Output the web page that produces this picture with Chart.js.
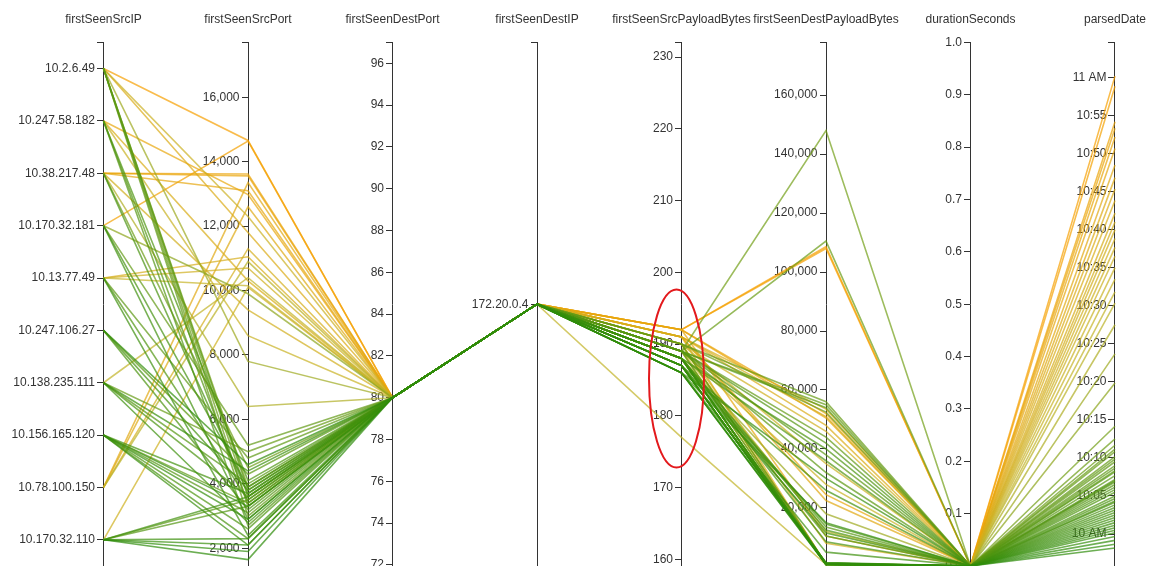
<!DOCTYPE html>
<html>
<head>
<meta charset="utf-8">
<script src="https://cdn.jsdelivr.net/npm/chart.js@4.4.1/dist/chart.umd.min.js"></script>
<style>
  html, body { margin: 0; padding: 0; background: #fff; width: 1149px; height: 566px; overflow: hidden; }
  #wrap { position: relative; width: 1149px; height: 566px; overflow: hidden; }
  canvas { display: block; }
</style>
</head>
<body>
<div id="wrap"><canvas id="pc" width="1149" height="600"></canvas></div>
<script>
// Dimension names, in axis order
const dimensions = ['firstSeenSrcIP', 'firstSeenSrcPort', 'firstSeenDestPort', 'firstSeenDestIP',
  'firstSeenSrcPayloadBytes', 'firstSeenDestPayloadBytes', 'durationSeconds', 'parsedDate'];

// Tick labels per axis
const srcIPLabels = ['10.2.6.49', '10.247.58.182', '10.38.217.48', '10.170.32.181', '10.13.77.49',
  '10.247.106.27', '10.138.235.111', '10.156.165.120', '10.78.100.150', '10.170.32.110'];
const destIPLabels = ['172.20.0.4'];
const srcPortTicks = [2000, 4000, 6000, 8000, 10000, 12000, 14000, 16000];
const destPortTicks = [72, 74, 76, 78, 80, 82, 84, 86, 88, 90, 92, 94, 96];
const srcPayloadTicks = [160, 170, 180, 190, 200, 210, 220, 230];
const destPayloadTicks = [20000, 40000, 60000, 80000, 100000, 120000, 140000, 160000];
const durationTicks = [0, 0.1, 0.2, 0.3, 0.4, 0.5, 0.6, 0.7, 0.8, 0.9, 1.0];
const dateTicks = ['10:00', '10:05', '10:10', '10:15', '10:20', '10:25', '10:30', '10:35',
  '10:40', '10:45', '10:50', '10:55', '11:00'];

// Ringed band on the source-payload axis (bytes)
const highlightSrcPayload = [172.8, 197.6];

// One entry per connection record
const firstSeenSrcIP = [
  '10.170.32.110', '10.247.106.27', '10.170.32.110', '10.156.165.120', '10.156.165.120',
  '10.170.32.110', '10.138.235.111', '10.156.165.120', '10.170.32.110', '10.13.77.49',
  '10.138.235.111', '10.170.32.181', '10.170.32.110', '10.156.165.120', '10.170.32.181',
  '10.247.106.27', '10.38.217.48', '10.156.165.120', '10.138.235.111', '10.247.106.27',
  '10.247.58.182', '10.156.165.120', '10.13.77.49', '10.170.32.110', '10.247.58.182',
  '10.156.165.120', '10.138.235.111', '10.247.58.182', '10.2.6.49', '10.170.32.110',
  '10.247.106.27', '10.13.77.49', '10.2.6.49', '10.156.165.120', '10.170.32.181',
  '10.2.6.49', '10.138.235.111', '10.2.6.49', '10.38.217.48', '10.2.6.49',
  '10.170.32.181', '10.2.6.49', '10.38.217.48', '10.78.100.150', '10.138.235.111',
  '10.13.77.49', '10.247.58.182', '10.2.6.49', '10.170.32.110', '10.13.77.49',
  '10.38.217.48', '10.78.100.150', '10.13.77.49', '10.247.58.182', '10.2.6.49',
  '10.78.100.150', '10.78.100.150', '10.38.217.48', '10.247.58.182', '10.38.217.48',
  '10.38.217.48', '10.170.32.181', '10.2.6.49'
];
const firstSeenSrcPort = [
  1650, 4600, 1900, 3300, 2900, 2100, 4400, 2100, 2300, 2400,
  2800, 2900, 3600, 3700, 3900, 3800, 3700, 2300, 3600, 3200,
  4100, 2600, 3500, 3300, 2700, 3100, 4000, 3400, 3800, 3500,
  4300, 4800, 3000, 3400, 5200, 3300, 5000, 3600, 4500, 3900,
  9900, 7800, 6400, 10900, 10400, 10150, 8600, 12300, 10100, 10700,
  9400, 11300, 11050, 10300, 11800, 12600, 13350, 13100, 12980, 13560,
  13620, 14640, 14660
];
const firstSeenDestPort = [
  80, 80, 80, 80, 80, 80, 80, 80, 80, 80, 80, 80, 80, 80, 80, 80, 80, 80, 80, 80, 80,
  80, 80, 80, 80, 80, 80, 80, 80, 80, 80, 80, 80, 80, 80, 80, 80, 80, 80, 80, 80, 80,
  80, 80, 80, 80, 80, 80, 80, 80, 80, 80, 80, 80, 80, 80, 80, 80, 80, 80, 80, 80, 80
];
const firstSeenDestIP = firstSeenSrcIP.map(() => '172.20.0.4');
const firstSeenSrcPayloadBytes = [
  186, 186, 187, 188, 186, 186, 186, 187, 187, 186,
  187, 187, 187, 187, 188, 187, 187, 188, 188, 187,
  188, 188, 188, 188, 187, 189, 188, 189, 188, 189,
  189, 189, 188, 190, 189, 189, 190, 189, 190, 189,
  188, 188, 188, 189, 177, 189, 189, 190, 190, 190,
  190, 190, 191, 191, 191, 191, 191, 192, 191, 192,
  192, 192, 192
];
const firstSeenDestPayloadBytes = [
  1500, 900, 800, 1200, 15000, 700, 30000, 1000, 11500, 5000,
  800, 1300, 900, 26000, 8500, 14500, 1100, 700, 12500, 1000,
  40000, 10500, 800, 36000, 1200, 42000, 900, 54000, 13500, 1000,
  32000, 38000, 800, 1100, 44000, 55000, 56000, 110500, 52500, 148000,
  1000, 18000, 900, 12000, 800, 1200, 28000, 35000, 1000, 46000,
  700, 8000, 51000, 53500, 48000, 900, 22500, 10500, 24500, 50500,
  52000, 108000, 108600
];
const durationSeconds = firstSeenSrcIP.map(() => 0);
const parsedDate = [
  '09:58:10', '09:58:40', '09:59:10', '09:59:40', '10:00:10', '10:00:30', '10:00:50', '10:01:10',
  '10:01:30', '10:01:50', '10:02:10', '10:02:30', '10:02:50', '10:03:10', '10:03:30', '10:03:50',
  '10:04:10', '10:04:20', '10:04:40', '10:05:00', '10:05:30', '10:05:50', '10:06:10', '10:06:30',
  '10:06:50', '10:07:00', '10:07:10', '10:07:40', '10:08:10', '10:08:20', '10:08:40', '10:09:00',
  '10:09:30', '10:09:50', '10:10:10', '10:10:50', '10:11:10', '10:11:40', '10:12:30', '10:14:10',
  '10:19:50', '10:23:40', '10:27:30', '10:30:20', '10:31:50', '10:33:30', '10:35:00', '10:36:30',
  '10:37:40', '10:38:50', '10:40:00', '10:41:00', '10:42:10', '10:43:50', '10:45:20', '10:46:50',
  '10:48:30', '10:50:40', '10:52:10', '10:53:20', '10:54:10', '10:58:50', '11:00:10'
];

// ---- helpers ----
const toMinutes = s => { const [h, m, sec = 0] = s.split(':').map(Number); return h * 60 + m + sec / 60; };
const thousands = v => v.toLocaleString('en-US');
const clock = s => { const [h, m] = s.split(':'); return m === '00' ? `${+h} AM` : `${+h}:${m}`; };

// Axis definitions: values, extent, direction and tick labels
const axes = [
  { values: firstSeenSrcIP.map(ip => srcIPLabels.indexOf(ip)), min: -0.5, max: 9.5, reverse: true,
    ticks: srcIPLabels.map((l, i) => [i, l]) },
  { values: firstSeenSrcPort, min: 1449, max: 17704, ticks: srcPortTicks.map(v => [v, thousands(v)]) },
  { values: firstSeenDestPort, min: 71.95, max: 97.0, ticks: destPortTicks.map(v => [v, String(v)]) },
  { values: firstSeenDestIP.map(ip => destIPLabels.indexOf(ip)), min: -0.5, max: 0.5, reverse: true,
    ticks: destIPLabels.map((l, i) => [i, l]) },
  { values: firstSeenSrcPayloadBytes, min: 159.07, max: 232.05, ticks: srcPayloadTicks.map(v => [v, String(v)]) },
  { values: firstSeenDestPayloadBytes, min: 300, max: 177900, ticks: destPayloadTicks.map(v => [v, thousands(v)]) },
  { values: durationSeconds, min: 0, max: 1, ticks: durationTicks.map(v => [v, v.toFixed(1)]) },
  { values: parsedDate.map(toMinutes), min: 595.8, max: 664.6, ticks: dateTicks.map(s => [toMinutes(s), clock(s)]) }
];

const norm = (a, v) => a.reverse ? (a.max - v) / (a.max - a.min) : (v - a.min) / (a.max - a.min);

// Line colour: early records green, through olive-yellow, to orange for the latest
const colorStops = [[0, [45, 140, 10]], [0.55, [196, 180, 40]], [1, [246, 160, 0]]];
const times = parsedDate.map(toMinutes);
const tMin = Math.min(...times), tMax = Math.max(...times);
function colorFor(t) {
  const k = (t - tMin) / (tMax - tMin);
  let j = 0;
  while (j < colorStops.length - 2 && k > colorStops[j + 1][0]) j++;
  const [k0, c0] = colorStops[j], [k1, c1] = colorStops[j + 1];
  const f = Math.max(0, Math.min(1, (k - k0) / (k1 - k0)));
  const c = c0.map((v, i) => Math.round(v + (c1[i] - v) * f));
  return `rgba(${c[0]},${c[1]},${c[2]},0.7)`;
}

// ---- chart ----
Chart.defaults.font.family = '"Liberation Sans", Arial, sans-serif';
Chart.defaults.font.size = 12;

const datasets = parsedDate.map((d, r) => ({
  data: axes.map((a, i) => ({ x: i, y: norm(a, a.values[r]) })),
  borderColor: colorFor(toMinutes(d)),
  borderWidth: 1.6,
  pointRadius: 0,
  tension: 0,
  xAxisID: 'x',
  yAxisID: 'yn'
}));

const AXIS_SPACING_PX = 144.5;   // pixel distance between neighbouring axes
const LABEL_GAP_PX = 8.5;        // gap between tick label and axis line

const scales = {
  x: {
    type: 'linear', axis: 'x', position: 'top', min: -0.7163, max: 7.2353,
    grid: { display: false, drawTicks: false }, border: { display: false },
    afterBuildTicks: s => { s.ticks = dimensions.map((_, i) => ({ value: i })); },
    afterFit: s => { s.paddingLeft = 0; s.paddingRight = 0; s.height = 30.4; },
    ticks: { autoSkip: false, maxRotation: 0, padding: 15.7, color: '#333',
      callback: v => dimensions[Math.round(v)] }
  },
  yn: { type: 'linear', axis: 'y', display: false, min: 0, max: 1 }
};

axes.forEach((a, i) => {
  const labels = new Map(a.ticks.map(([v, l]) => [v, l]));
  // tick values plus the two end stubs of the axis (skipped where a labelled tick already sits)
  const values = a.ticks.map(([v]) => v);
  const withEnds = [a.min, ...values, a.max].filter((v, k, arr) => arr.indexOf(v) === k);
  // axis line with outward tick marks
  scales['ax' + i] = {
    type: 'linear', axis: 'y', position: { x: i }, min: a.min, max: a.max, reverse: !!a.reverse, z: 1,
    afterBuildTicks: s => { s.ticks = withEnds.map(v => ({ value: v })); },
    grid: { display: true, drawOnChartArea: false, drawTicks: true, tickLength: 6, color: '#333', lineWidth: 1 },
    border: { display: true, color: '#333', width: 1 },
    ticks: { display: false, autoSkip: false }
  };
  // tick labels, set just left of the tick marks
  scales['lb' + i] = {
    type: 'linear', axis: 'y', position: { x: i - LABEL_GAP_PX / AXIS_SPACING_PX },
    min: a.min, max: a.max, reverse: !!a.reverse, z: 1,
    afterBuildTicks: s => { s.ticks = values.map(v => ({ value: v })); },
    grid: { display: false, drawTicks: false },
    border: { display: false },
    ticks: { autoSkip: false, padding: 0, color: '#333',
      callback: v => labels.has(v) ? labels.get(v) : '' }
  };
});

// Red ring around the crowded band on the source-payload axis
const payloadRing = {
  id: 'payloadRing',
  afterDraw(chart) {
    const ax = chart.scales.ax4, xs = chart.scales.x;
    const top = ax.getPixelForValue(highlightSrcPayload[1]);
    const bottom = ax.getPixelForValue(highlightSrcPayload[0]);
    const cx = xs.getPixelForValue(4) - 5;
    const { ctx } = chart;
    ctx.save();
    ctx.beginPath();
    ctx.ellipse(cx, (top + bottom) / 2, 27.5, (bottom - top) / 2, 0, 0, Math.PI * 2);
    ctx.strokeStyle = '#e3191c';
    ctx.lineWidth = 2;
    ctx.stroke();
    ctx.restore();
  }
};

new Chart(document.getElementById('pc'), {
  type: 'line',
  data: { datasets },
  options: {
    responsive: false,
    animation: false,
    events: [],
    layout: { padding: { top: 12, bottom: 34, left: 0, right: 0 } },
    plugins: { legend: { display: false }, tooltip: { enabled: false } },
    scales
  },
  plugins: [payloadRing]
});
</script>
</body>
</html>
